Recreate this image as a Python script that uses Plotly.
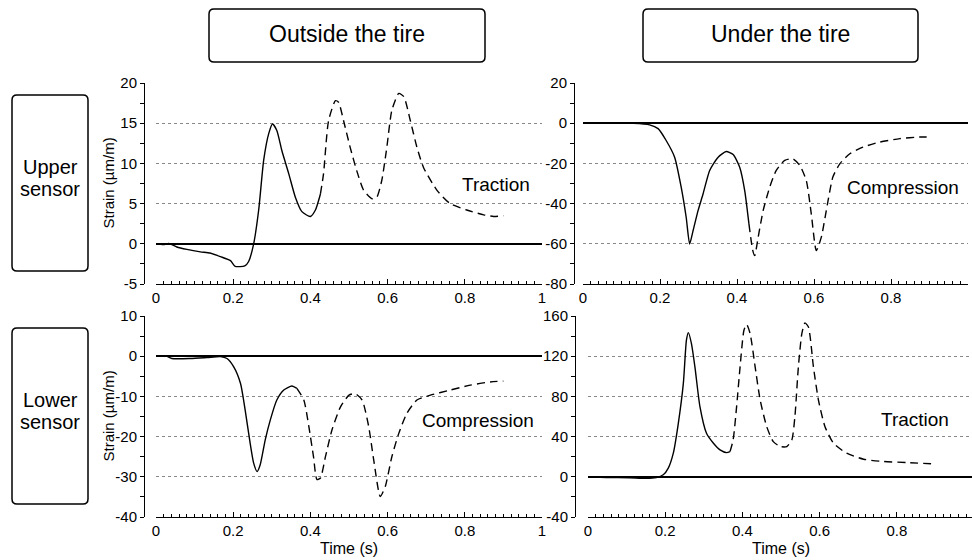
import plotly.graph_objects as go

# ---------------- data (time in s, strain in µm/m) ----------------
# Upper sensor, outside the tire
ul_solid_t = [0, 0.02, 0.033, 0.054, 0.08, 0.115, 0.14, 0.167, 0.193, 0.205, 0.23, 0.24, 0.253, 0.266, 0.279, 0.292, 0.302, 0.313, 0.326, 0.344, 0.361, 0.378, 0.4, 0.413, 0.426]
ul_solid_v = [0, -0.1, 0.05, -0.4, -0.7, -1.0, -1.15, -1.6, -2.1, -2.8, -2.75, -2.2, 0, 4.2, 10.4, 13.7, 14.9, 14.1, 11.6, 8.7, 5.8, 4.0, 3.4, 4.2, 6.2]
ul_dash_t = [0.426, 0.434, 0.447, 0.465, 0.473, 0.486, 0.503, 0.52, 0.538, 0.56, 0.572, 0.585, 0.598, 0.611, 0.629, 0.642, 0.659, 0.676, 0.693, 0.728, 0.762, 0.805, 0.849, 0.875, 0.9]
ul_dash_v = [6.2, 8.7, 15.3, 17.8, 17.6, 15.3, 12.0, 9.1, 6.65, 5.6, 5.8, 7.9, 12.0, 16.6, 18.7, 18.3, 15.3, 12.0, 9.5, 6.65, 5.0, 4.2, 3.6, 3.4, 3.5]

# Upper sensor, under the tire
ur_solid_t = [0, 0.13, 0.173, 0.195, 0.216, 0.238, 0.255, 0.268, 0.277, 0.286, 0.299, 0.312, 0.329, 0.351, 0.372, 0.39, 0.407, 0.42, 0.431]
ur_solid_v = [0, -0.1, -0.8, -2.7, -8.6, -16.9, -31.8, -46.8, -60.1, -53.4, -43.4, -35.1, -23.5, -16.9, -14.1, -15.6, -21.9, -33.5, -50.1]
ur_dash_t = [0.431, 0.441, 0.446, 0.455, 0.468, 0.485, 0.502, 0.524, 0.545, 0.563, 0.58, 0.593, 0.606, 0.619, 0.632, 0.649, 0.667, 0.693, 0.727, 0.771, 0.823, 0.874, 0.905]
ur_dash_v = [-50.1, -63.4, -65.9, -56.7, -43.4, -31.8, -23.5, -18.5, -17.7, -21.0, -28.5, -45.2, -63.4, -56.7, -43.4, -26.8, -20.2, -15.2, -11.9, -9.4, -7.7, -6.9, -6.9]

# Lower sensor, outside the tire
ll_solid_t = [0, 0.028, 0.041, 0.089, 0.132, 0.167, 0.184, 0.201, 0.219, 0.231, 0.244, 0.253, 0.262, 0.27, 0.283, 0.296, 0.313, 0.331, 0.352, 0.365]
ll_solid_v = [0, 0, -0.58, -0.58, -0.33, -0.1, -0.58, -2.6, -6.8, -13.4, -21.7, -26.6, -28.7, -27.0, -20.8, -15.9, -10.9, -8.4, -7.4, -8.0]
ll_dash_t = [0.365, 0.383, 0.396, 0.408, 0.417, 0.426, 0.439, 0.456, 0.478, 0.5, 0.516, 0.534, 0.551, 0.564, 0.581, 0.594, 0.611, 0.629, 0.65, 0.676, 0.711, 0.763, 0.814, 0.866, 0.9]
ll_dash_v = [-8.0, -10.9, -17.5, -25.0, -30.7, -30.3, -25.0, -18.3, -12.6, -9.7, -9.3, -10.9, -17.5, -25.8, -34.9, -32.4, -25.0, -19.2, -14.2, -10.9, -9.7, -8.4, -7.2, -6.4, -6.2]

# Lower sensor, under the tire
lr_solid_t = [0, 0.048, 0.108, 0.151, 0.177, 0.195, 0.208, 0.221, 0.234, 0.247, 0.255, 0.26, 0.268, 0.277, 0.29, 0.307, 0.325, 0.342, 0.359, 0.368]
lr_solid_v = [0, -0.7, -1.0, -1.6, -0.7, 2.0, 8.6, 23.5, 53.2, 92.9, 135.9, 143.5, 132.6, 109.4, 69.8, 43.3, 33.4, 26.8, 24.1, 25.1]
lr_dash_t = [0.368, 0.376, 0.385, 0.394, 0.404, 0.411, 0.42, 0.433, 0.446, 0.463, 0.48, 0.498, 0.515, 0.528, 0.536, 0.545, 0.554, 0.562, 0.571, 0.584, 0.597, 0.614, 0.636, 0.67, 0.714, 0.766, 0.826, 0.895]
lr_dash_v = [25.1, 36.7, 69.8, 109.4, 145.8, 151.7, 142.5, 109.4, 76.4, 49.9, 35.0, 30.1, 30.1, 36.7, 59.8, 109.4, 142.5, 153.1, 149.1, 109.4, 76.4, 49.9, 33.4, 23.5, 17.5, 15.2, 14.2, 12.9]

col_titles = ["Outside the tire", "Under the tire"]
row_titles = [["Upper", "sensor"], ["Lower", "sensor"]]
panel_labels = ["Traction", "Compression", "Compression", "Traction"]
y_ticks = [
    [-5, 0, 5, 10, 15, 20],
    [-80, -60, -40, -20, 0, 20],
    [-40, -30, -20, -10, 0, 10],
    [-40, 0, 40, 80, 120, 160],
]
y_tick_labels = [[str(v) for v in tv] for tv in y_ticks]  # plain hyphen minus as in the original
y_title = "Strain (µm/m)"
x_title = "Time (s)"

# ---------------- layout helpers ----------------
W, H = 972, 560
FONT = "Liberation Sans, Arial, sans-serif"

def px_x(p):
    return p / W

def px_y(p):
    return 1 - p / H

panels = [
    dict(solid=(ul_solid_t, ul_solid_v), dash=(ul_dash_t, ul_dash_v),
         xdom=[px_x(156), px_x(542)], xr=[0, 1], ydom=[px_y(284), px_y(83)], ypos=px_x(144),
         lab=(0.88, 7.4), ytitle=True, xtitle=False),
    dict(solid=(ur_solid_t, ur_solid_v), dash=(ur_dash_t, ur_dash_v),
         xdom=[px_x(583), px_x(968)], xr=[0, 1], ydom=[px_y(284), px_y(83)], ypos=px_x(574),
         lab=(0.83, -32), ytitle=False, xtitle=False),
    dict(solid=(ll_solid_t, ll_solid_v), dash=(ll_dash_t, ll_dash_v),
         xdom=[px_x(156), px_x(542)], xr=[0, 1], ydom=[px_y(517), px_y(316)], ypos=px_x(144),
         lab=(0.834, -15.9), ytitle=True, xtitle=True),
    dict(solid=(lr_solid_t, lr_solid_v), dash=(lr_dash_t, lr_dash_v),
         xdom=[px_x(588), 1.0], xr=[0, (972 - 588) / 386], ydom=[px_y(517), px_y(316)], ypos=px_x(575),
         lab=(0.847, 57.5), ytitle=False, xtitle=True),
]

fig = go.Figure()
layout = dict(
    width=W, height=H, margin=dict(l=0, r=0, t=0, b=0, autoexpand=False),
    paper_bgcolor="white", plot_bgcolor="white",
    showlegend=False, hovermode=False,
    font=dict(family=FONT, color="black"),
)
annotations = []
shapes = []

for i, p in enumerate(panels):
    n = i + 1
    xa = "x" if n == 1 else f"x{n}"
    ya = "y" if n == 1 else f"y{n}"
    xkey = "xaxis" if n == 1 else f"xaxis{n}"
    ykey = "yaxis" if n == 1 else f"yaxis{n}"
    fig.add_trace(go.Scatter(x=p["solid"][0], y=p["solid"][1], mode="lines",
                             line=dict(color="black", width=1.4, shape="spline", smoothing=0.6),
                             xaxis=xa, yaxis=ya))
    fig.add_trace(go.Scatter(x=p["dash"][0], y=p["dash"][1], mode="lines",
                             line=dict(color="black", width=1.4, dash="8px,5px", shape="spline", smoothing=0.6),
                             xaxis=xa, yaxis=ya))
    layout[xkey] = dict(
        domain=p["xdom"], range=p["xr"], anchor=ya, automargin=False,
        showline=True, linecolor="black", linewidth=1,
        ticks="inside", ticklen=5, tickcolor="black", dtick=0.2, tick0=0,
        minor=dict(ticks="inside", ticklen=3, dtick=0.02, tick0=0, tickcolor="black"),
        showgrid=False, zeroline=False,
        tickfont=dict(size=15, family=FONT, color="black"),
    )
    tv = y_ticks[i]
    layout[ykey] = dict(
        domain=p["ydom"], range=[tv[0], tv[-1]], anchor="free", position=p["ypos"], automargin=False,
        showline=True, linecolor="black", linewidth=1,
        ticks="outside", ticklen=4, tickcolor="black",
        tickmode="array", tickvals=tv, ticktext=y_tick_labels[i],
        minor=dict(ticks="outside", ticklen=4, dtick=(tv[1] - tv[0]) / 2, tick0=0,
                   tickcolor="black", showgrid=False),
        showgrid=True, gridcolor="#888888", griddash="dot", gridwidth=1,
        zeroline=True, zerolinecolor="black", zerolinewidth=1.5,
        tickfont=dict(size=15, family=FONT, color="black"),
    )
    annotations.append(dict(text=panel_labels[i], x=p["lab"][0], y=p["lab"][1], xref=xa, yref=ya,
                            xanchor="center", yanchor="middle",
                            showarrow=False, font=dict(size=19, family=FONT, color="black")))
    if p["ytitle"]:
        annotations.append(dict(text=y_title, x=px_x(108), y=sum(p["ydom"]) / 2, xref="paper", yref="paper",
                                xanchor="center", yanchor="middle", textangle=-90,
                                showarrow=False, font=dict(size=15, family=FONT, color="black")))
    if p["xtitle"]:
        xc = (p["xdom"][0] * W + 386 / 2) / W
        annotations.append(dict(text=x_title, x=xc, y=px_y(548), xref="paper", yref="paper",
                                xanchor="center", yanchor="middle",
                                showarrow=False, font=dict(size=16, family=FONT, color="black")))

def rounded_box(x0, y0, x1, y1, r=5):
    # pixel coords -> paper path
    X = lambda v: v / W
    Y = lambda v: 1 - v / H
    path = (f"M {X(x0 + r)},{Y(y0)} L {X(x1 - r)},{Y(y0)} Q {X(x1)},{Y(y0)} {X(x1)},{Y(y0 + r)} "
            f"L {X(x1)},{Y(y1 - r)} Q {X(x1)},{Y(y1)} {X(x1 - r)},{Y(y1)} "
            f"L {X(x0 + r)},{Y(y1)} Q {X(x0)},{Y(y1)} {X(x0)},{Y(y1 - r)} "
            f"L {X(x0)},{Y(y0 + r)} Q {X(x0)},{Y(y0)} {X(x0 + r)},{Y(y0)} Z")
    return dict(type="path", path=path, xref="paper", yref="paper",
                line=dict(color="black", width=1.5), fillcolor="white", layer="below")

# Column header boxes
for (x0, x1), txt in zip([(209, 485), (643, 918)], col_titles):
    shapes.append(rounded_box(x0, 9, x1, 62))
    annotations.append(dict(text=txt, x=px_x((x0 + x1) / 2), y=px_y(34), xref="paper", yref="paper",
                            xanchor="center", yanchor="middle",
                            showarrow=False, font=dict(size=23, family=FONT, color="black")))

# Row header boxes
for (y0, y1), lines in zip([(95, 271), (328, 504)], row_titles):
    shapes.append(rounded_box(12, y0, 88, y1))
    cy = (y0 + y1) / 2
    annotations.append(dict(text=lines[0], x=px_x(50), y=px_y(cy - 16), xref="paper", yref="paper",
                            xanchor="center", yanchor="middle",
                            showarrow=False, font=dict(size=20, family=FONT, color="black")))
    annotations.append(dict(text=lines[1], x=px_x(50), y=px_y(cy + 6), xref="paper", yref="paper",
                            xanchor="center", yanchor="middle",
                            showarrow=False, font=dict(size=20, family=FONT, color="black")))

layout["annotations"] = annotations
layout["shapes"] = shapes
fig.update_layout(**layout)
fig.write_html("out.html")
